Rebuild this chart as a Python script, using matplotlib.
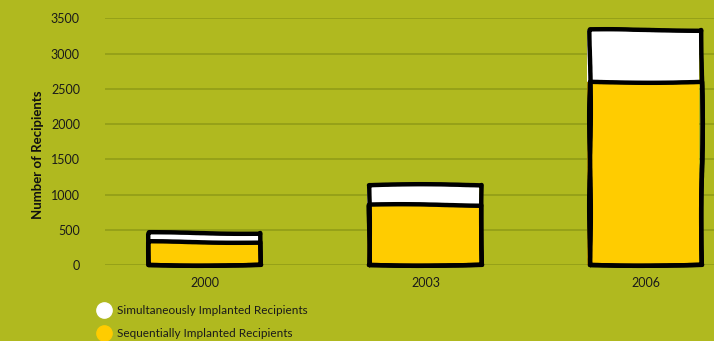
import matplotlib.pyplot as plt
from matplotlib.lines import Line2D
import numpy as np

years = ['2000', '2003', '2006']
sequential = [330, 850, 2600]
simultaneous = [120, 290, 740]
yticks = [0, 500, 1000, 1500, 2000, 2500, 3000, 3500]

bg = '#b0b91f'
yellow = '#ffcc00'
grid = '#8f9a16'

plt.rcParams['font.family'] = ['Lato', 'DejaVu Sans']

fig = plt.figure(figsize=(7.14, 3.41), dpi=100, facecolor=bg)
ax = fig.add_axes([0.147, 0.223, 0.853, 0.723], facecolor=bg)

x = np.arange(len(years))
w = 0.51

for yv in yticks:
    ax.axhline(yv, color=grid, lw=1.1, zorder=0)

# fill, drawn slightly offset from the outline like the hand-drawn original
ax.bar(x - 0.012, sequential, w, color=yellow, zorder=2)
ax.bar(x - 0.012, simultaneous, w, bottom=sequential, color='white', zorder=2)

totals = [a + b for a, b in zip(sequential, simultaneous)]
seq_out = ax.bar(x, sequential, w, fill=False, edgecolor='black', lw=3.2, zorder=3, clip_on=False)
tot_out = ax.bar(x, totals, w, fill=False, edgecolor='black', lw=3.2, zorder=3, clip_on=False)
for p in list(seq_out) + list(tot_out):
    p.set_sketch_params(scale=0.8, length=250, randomness=3)
    p.set_joinstyle('round')

ax.set_xlim(-0.455, 2.31)
ax.set_ylim(0, 3500)
ax.set_yticks(yticks)
ax.set_xticks(x)
ax.set_xticklabels(years)
ax.tick_params(length=0, labelsize=9, colors='#1a1a1a', pad=9)
ax.tick_params(axis='y', pad=18)
for s in ax.spines.values():
    s.set_visible(False)

fig.text(0.053, 0.545, 'Number of Recipients', rotation=90, ha='center', va='center',
         fontsize=9.5, fontweight='bold', color='#111111')

handles = [
    Line2D([], [], marker='o', ls='', markersize=11, markerfacecolor='white', markeredgecolor='white'),
    Line2D([], [], marker='o', ls='', markersize=11, markerfacecolor=yellow, markeredgecolor=yellow),
]
fig.legend(handles, ['Simultaneously Implanted Recipients', 'Sequentially Implanted Recipients'],
           loc='upper left', bbox_to_anchor=(0.128, 0.122), frameon=False, fontsize=8.5,
           handletextpad=0.5, labelspacing=1.0, borderpad=0, handlelength=1.2,
           labelcolor='#1a1a1a')

fig.savefig('out.png', facecolor=bg)
